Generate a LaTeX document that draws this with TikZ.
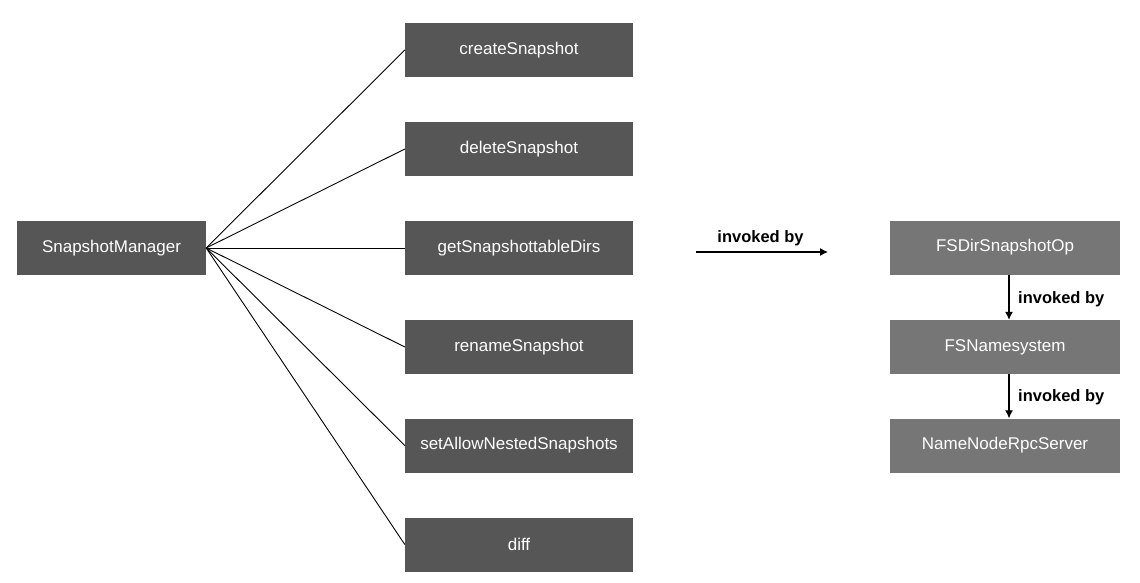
\documentclass[tikz,border=0pt]{standalone}
\usepackage{fontspec}
\setmainfont{Liberation Sans}
\usetikzlibrary{arrows.meta}
\definecolor{darkbox}{RGB}{86,86,86}
\definecolor{lightbox}{RGB}{118,118,118}
\tikzset{
  box/.style={rectangle, fill=darkbox, text=white, font=\fontsize{17}{20}\selectfont, inner sep=0pt, minimum height=54pt},
  lbox/.style={box, fill=lightbox},
  fan/.style={draw=black, line width=0.9pt},
  inv/.style={draw=black, line width=1.1pt, -{Latex[length=8pt,width=8pt]}},
  lab/.style={font=\bfseries\fontsize{16.5}{19}\selectfont, text=black, inner sep=0pt}
}
\begin{document}
\begin{tikzpicture}[x=1pt,y=-1pt]
\fill[white] (0,0) rectangle (1140,583);
\useasboundingbox (0,0) rectangle (1140,583);

\node[box, minimum width=189pt] (sm) at (111.5,248) {SnapshotManager};

\node[box, minimum width=228pt] (m1) at (519,50) {createSnapshot};
\node[box, minimum width=228pt] (m2) at (519,149) {deleteSnapshot};
\node[box, minimum width=228pt] (m3) at (519,248) {getSnapshottableDirs};
\node[box, minimum width=228pt] (m4) at (519,347) {renameSnapshot};
\node[box, minimum width=228pt] (m5) at (519,445.5) {setAllowNestedSnapshots};
\node[box, minimum width=228pt] (m6) at (519,544.5) {diff};

\foreach \m in {m1,m2,m3,m4,m5,m6}
  \draw[fan] (sm.east) -- (\m.west);

\node[lbox, minimum width=230pt] (r1) at (1005,247.5) {FSDirSnapshotOp};
\node[lbox, minimum width=230pt] (r2) at (1005,347) {FSNamesystem};
\node[lbox, minimum width=230pt] (r3) at (1005,445.5) {NameNodeRpcServer};

\coordinate (a0) at (696,252);
\coordinate (a1) at (828,252);
\draw[inv] (a0) -- (a1);
\node[lab] (l0) at (760.5,238) {invoked by};

\draw[inv] ([xshift=4pt]r1.south) -- ([xshift=4pt]r2.north);
\node[lab, anchor=west] (l1) at (1018,299) {invoked by};
\draw[inv] ([xshift=4pt]r2.south) -- ([xshift=4pt]r3.north);
\node[lab, anchor=west] (l2) at (1018,397) {invoked by};
\end{tikzpicture}
\end{document}
